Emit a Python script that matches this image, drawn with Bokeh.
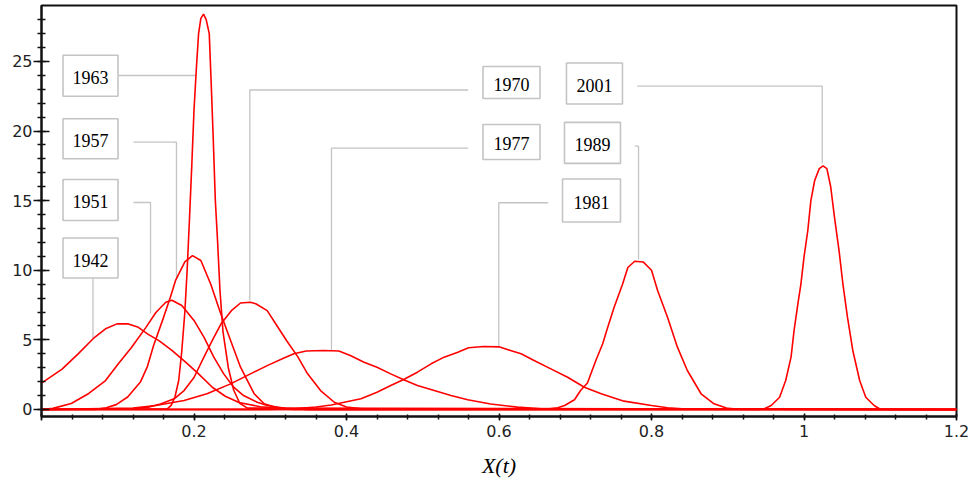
from bokeh.plotting import figure
from bokeh.models import FixedTicker, Range1d
from bokeh.embed import file_html
from bokeh.resources import INLINE
from bokeh.core.properties import value

# ---- data: density curves X(t) per year ----
x_1942 = [0.0, 0.027, 0.048, 0.068, 0.084, 0.099, 0.114, 0.127, 0.140, 0.154, 0.171, 0.189, 0.206, 0.224, 0.241, 0.259, 0.287, 0.32, 0.35, 1.2]
y_1942 = [1.9, 2.9, 4.0, 5.1, 5.8, 6.15, 6.15, 5.9, 5.4, 4.95, 4.24, 3.4, 2.56, 1.6, 0.95, 0.5, 0.2, 0.06, 0.0, 0.0]

x_1951 = [0.0, 0.015, 0.039, 0.062, 0.084, 0.101, 0.118, 0.137, 0.150, 0.163, 0.171, 0.184, 0.200, 0.213, 0.226, 0.239, 0.252, 0.265, 0.283, 0.296, 0.32, 0.35, 1.2]
y_1951 = [0.0, 0.08, 0.43, 1.15, 2.08, 3.3, 4.45, 5.9, 6.97, 7.7, 7.85, 7.47, 6.4, 5.2, 3.76, 2.56, 1.6, 1.0, 0.52, 0.29, 0.08, 0.0, 0.0]

x_1957 = [0.0, 0.07, 0.085, 0.098, 0.113, 0.130, 0.139, 0.147, 0.160, 0.169, 0.176, 0.188, 0.198, 0.209, 0.222, 0.235, 0.248, 0.261, 0.279, 0.292, 0.31, 0.33, 1.2]
y_1957 = [0.0, 0.0, 0.12, 0.35, 0.9, 2.0, 3.1, 4.6, 6.6, 8.07, 9.3, 10.6, 11.05, 10.7, 9.0, 6.9, 4.96, 3.04, 1.13, 0.41, 0.1, 0.0, 0.0]

x_1963 = [0.0, 0.165, 0.170, 0.175, 0.180, 0.184, 0.188, 0.191, 0.194, 0.197, 0.200, 0.203, 0.206, 0.209, 0.2125, 0.216, 0.220, 0.2225, 0.225, 0.228, 0.231, 0.234, 0.238, 0.245, 0.252, 0.260, 0.270, 1.2]
y_1963 = [0.0, 0.05, 0.3, 0.9, 2.1, 4.2, 7.0, 10.0, 13.6, 17.4, 21.5, 24.4, 27.0, 28.1, 28.4, 28.0, 27.0, 23.5, 19.8, 15.0, 12.0, 8.6, 5.6, 3.0, 1.4, 0.45, 0.1, 0.0]

x_1970 = [0.0, 0.12, 0.14, 0.156, 0.174, 0.187, 0.200, 0.213, 0.224, 0.236, 0.249, 0.261, 0.274, 0.281, 0.296, 0.309, 0.322, 0.336, 0.349, 0.366, 0.384, 0.40, 0.42, 1.2]
y_1970 = [0.0, 0.05, 0.17, 0.4, 0.77, 1.36, 2.3, 3.76, 4.96, 6.2, 7.1, 7.65, 7.7, 7.6, 7.1, 6.0, 4.9, 3.8, 2.56, 1.36, 0.52, 0.18, 0.05, 0.0]

x_1977 = [0.0, 0.12, 0.15, 0.187, 0.217, 0.248, 0.274, 0.296, 0.318, 0.331, 0.347, 0.37, 0.39, 0.405, 0.423, 0.44, 0.458, 0.475, 0.493, 0.515, 0.537, 0.559, 0.589, 0.624, 0.66, 1.2]
y_1977 = [0.0, 0.1, 0.29, 0.65, 1.13, 1.84, 2.56, 3.15, 3.7, 4.0, 4.2, 4.24, 4.2, 3.88, 3.4, 3.04, 2.56, 2.13, 1.72, 1.36, 1.0, 0.7, 0.4, 0.17, 0.03, 0.0]

x_1981 = [0.0, 0.30, 0.33, 0.36, 0.38, 0.397, 0.419, 0.44, 0.458, 0.475, 0.493, 0.511, 0.528, 0.546, 0.56, 0.58, 0.60, 0.615, 0.629, 0.646, 0.668, 0.69, 0.712, 0.734, 0.764, 0.8, 0.821, 0.85, 1.2]
y_1981 = [0.0, 0.0, 0.05, 0.18, 0.32, 0.52, 0.77, 1.24, 1.72, 2.15, 2.68, 3.28, 3.76, 4.12, 4.43, 4.53, 4.5, 4.24, 4.0, 3.52, 2.92, 2.32, 1.6, 1.13, 0.6, 0.29, 0.12, 0.02, 0.0]

x_1989 = [0.0, 0.66, 0.677, 0.686, 0.699, 0.707, 0.716, 0.727, 0.736, 0.742, 0.751, 0.762, 0.769, 0.778, 0.789, 0.80, 0.808, 0.821, 0.834, 0.847, 0.865, 0.882, 0.90, 0.92, 1.2]
y_1989 = [0.0, 0.02, 0.12, 0.29, 0.7, 1.36, 1.9, 3.52, 4.72, 5.8, 7.35, 9.0, 10.2, 10.65, 10.6, 10.0, 8.55, 6.63, 4.48, 2.8, 1.13, 0.41, 0.08, 0.0, 0.0]

x_2001 = [0.0, 0.94, 0.948, 0.957, 0.968, 0.976, 0.983, 0.987, 0.992, 0.996, 1.0, 1.005, 1.009, 1.014, 1.02, 1.025, 1.03, 1.035, 1.04, 1.046, 1.051, 1.057, 1.064, 1.073, 1.081, 1.092, 1.10, 1.2]
y_2001 = [0.0, 0.0, 0.05, 0.29, 0.88, 2.08, 3.76, 5.68, 7.6, 9.03, 10.94, 12.86, 15.0, 16.45, 17.3, 17.5, 17.3, 16.0, 13.8, 11.4, 9.03, 6.63, 4.24, 2.08, 0.88, 0.29, 0.02, 0.0]

curve_xs = [x_1942, x_1951, x_1957, x_1963, x_1970, x_1977, x_1981, x_1989, x_2001]
curve_ys = [y_1942, y_1951, y_1957, y_1963, y_1970, y_1977, y_1981, y_1989, y_2001]

# ticks
x_ticks = [0, 0.2, 0.4, 0.6, 0.8, 1, 1.2]
y_ticks = [0, 5, 10, 15, 20, 25]

# ---- callout labels (annotation layout, data units) ----
label_text = ["1963", "1957", "1951", "1942", "1970", "1977", "2001", "1989", "1981"]
label_x = [0.0643, 0.0643, 0.0643, 0.0643, 0.6164, 0.6164, 0.7252, 0.7226, 0.7213]
label_y = [23.97, 19.45, 15.05, 10.88, 23.49, 19.22, 23.42, 19.15, 15.01]
box_w = [55, 55, 55, 55, 57, 57, 56, 56, 58]
box_h = [41, 40, 41, 40, 32, 35, 41, 41, 43]
leader_xs = [[0.101, 0.2033], [0.1207, 0.177, 0.177], [0.1207, 0.143, 0.143], [0.0675, 0.0675],
             [0.5596, 0.2732, 0.2732], [0.5596, 0.3803, 0.3803], [0.7812, 1.0239, 1.0239],
             [0.7781, 0.783, 0.783], [0.6645, 0.5997, 0.5997]]
leader_ys = [[23.99, 23.99], [19.2, 19.2, 9.41], [14.87, 14.87, 6.9], [9.43, 5.1],
             [22.95, 22.95, 7.83], [18.77, 18.77, 4.24], [23.23, 23.23, 17.67],
             [18.92, 18.92, 10.78], [14.85, 14.85, 4.53]]

p = figure(width=971, height=484, x_range=Range1d(0, 1.2), y_range=Range1d(-0.503, 29.02),
           output_backend="svg", toolbar_location=None,
           min_border_left=41, min_border_right=15, min_border_top=5, min_border_bottom=68)
p.xgrid.visible = False
p.ygrid.visible = False
p.outline_line_color = "#111111"
p.outline_line_width = 2
p.background_fill_color = "white"
p.border_fill_color = "white"

# leaders and boxes
p.multi_line(leader_xs, leader_ys, line_color="#c4c4c4", line_width=1.3)
p.rect(label_x, label_y, width=box_w, height=box_h, width_units="screen", height_units="screen",
       fill_color="white", line_color="#c4c4c4", line_width=1.6)
p.text(label_x, label_y, text=label_text, text_font=value("Liberation Serif"), text_font_size="18px",
       text_align="center", text_baseline="middle", text_color="black", y_offset=2)

# curves
p.multi_line(curve_xs, curve_ys, line_color="#ff0000", line_width=1.6)

# axes
xa = p.xaxis[0]
xa.ticker = FixedTicker(ticks=x_ticks, minor_ticks=[round(0.04 * i, 2) for i in range(31)])
xa.major_label_overrides = {0: "", 1: "1"}
ya = p.yaxis[0]
ya.ticker = FixedTicker(ticks=y_ticks, minor_ticks=list(range(0, 29)))

for ax in (xa, ya):
    ax.axis_line_color = "#111111"
    ax.axis_line_width = 2
    ax.major_tick_line_color = "#111111"
    ax.minor_tick_line_color = "#111111"
    ax.major_tick_line_width = 1.5
    ax.minor_tick_line_width = 1.5
    ax.major_label_text_font = "DejaVu Sans"
    ax.major_label_text_font_size = "16px"
    ax.major_label_text_color = "#222222"

ya.major_tick_in = 8
ya.major_tick_out = 8
ya.minor_tick_in = 4
ya.minor_tick_out = 4
ya.major_label_standoff = 1

xa.major_tick_in = 3
xa.major_tick_out = 4
xa.minor_tick_in = 2
xa.minor_tick_out = 3
xa.major_label_standoff = 4
xa.axis_label = "X(t)"
xa.axis_label_text_font = "Liberation Serif"
xa.axis_label_text_font_style = "italic"
xa.axis_label_text_font_size = "22px"
xa.axis_label_text_color = "black"
xa.axis_label_standoff = 13

open("out.html", "w").write(file_html(p, INLINE))
